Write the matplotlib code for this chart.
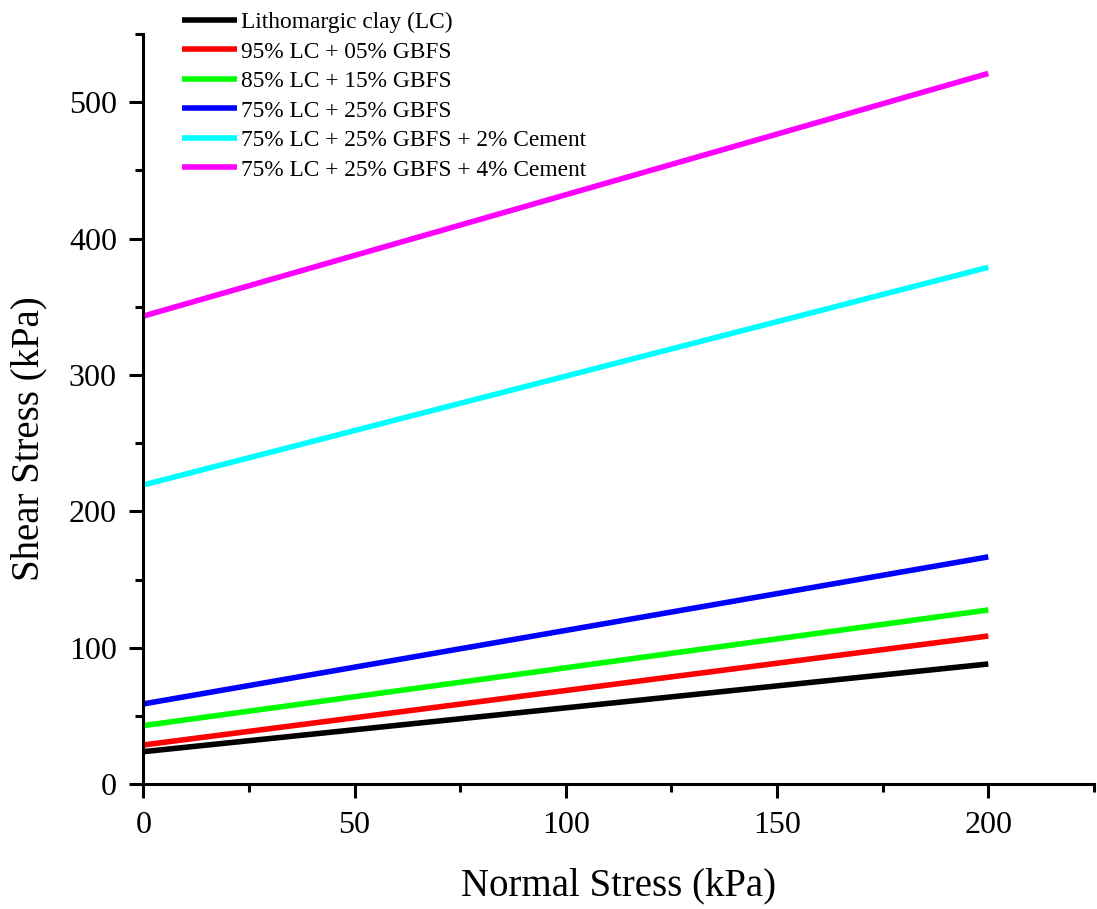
import numpy as np
import matplotlib.pyplot as plt
from matplotlib.ticker import MultipleLocator

plt.rcParams['font.family'] = ['Liberation Serif', 'DejaVu Serif']

# Mohr-Coulomb failure envelopes, shear stress at normal stress 0 and 200 kPa
normal_stress = [0, 200]
labels = ['Lithomargic clay (LC)',
          '95% LC + 05% GBFS',
          '85% LC + 15% GBFS',
          '75% LC + 25% GBFS',
          '75% LC + 25% GBFS + 2% Cement',
          '75% LC + 25% GBFS + 4% Cement']
shear_at_0 = [23.9, 28.8, 43.0, 58.9, 219.4, 343.2]
shear_at_200 = [88.2, 108.7, 127.8, 166.7, 379.0, 521.1]
colors = ['#000000', '#ff0000', '#00ff00', '#0000ff', '#00ffff', '#ff00ff']

fig = plt.figure(figsize=(10.97, 9.09), dpi=100)
ax = fig.add_axes([0.1306, 0.1372, 0.8666, 0.8254])

for lab, s0, s1, c in zip(labels, shear_at_0, shear_at_200, colors):
    ax.plot(normal_stress, [s0, s1], color=c, lw=4, label=lab,
            solid_capstyle='butt')

ax.set_xlim(0, 225)
ax.set_ylim(0, 550)
ax.xaxis.set_major_locator(MultipleLocator(50))
ax.xaxis.set_minor_locator(MultipleLocator(25))
ax.yaxis.set_major_locator(MultipleLocator(100))
ax.yaxis.set_minor_locator(MultipleLocator(50))

for side in ['top', 'right']:
    ax.spines[side].set_visible(False)
for side in ['left', 'bottom']:
    ax.spines[side].set_linewidth(2.2)

ax.tick_params(which='major', length=10, width=2.2, labelsize=23, pad=9)
ax.tick_params(which='minor', length=6, width=2.2)

ax.set_xlabel('Normal Stress (kPa)', fontsize=28, labelpad=20)
ax.set_ylabel('Shear Stress (kPa)', fontsize=28)
ax.yaxis.set_label_coords(-0.1005, 0.461)

ax.legend(loc='upper left', bbox_to_anchor=(0.166, 0.987),
          bbox_transform=fig.transFigure, frameon=False, fontsize=16.8,
          handlelength=2.36, handletextpad=0.17, labelspacing=0.35,
          borderpad=0, borderaxespad=0)

fig.savefig('out.png', dpi=100)
